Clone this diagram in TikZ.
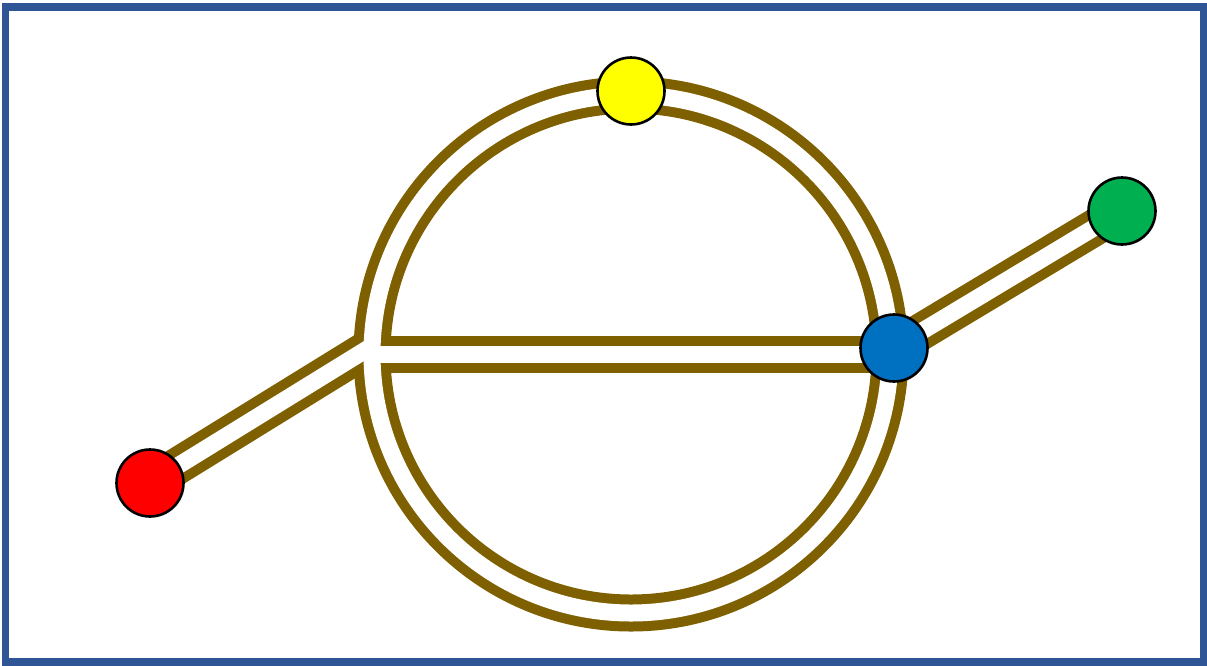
\documentclass[tikz,border=0pt]{standalone}
\usetikzlibrary{backgrounds}
\definecolor{ringbrown}{HTML}{7F6000}
\definecolor{framecol}{HTML}{2F5597}
\definecolor{nred}{HTML}{FF0000}
\definecolor{nyellow}{HTML}{FFFF00}
\definecolor{nblue}{HTML}{0070C0}
\definecolor{ngreen}{HTML}{00B050}
\begin{document}
\begin{tikzpicture}[x=1pt,y=-1pt,
  dot/.style={circle,draw=black,line width=2.6pt,minimum size=67pt,inner sep=0pt},
  railout/.style={draw=ringbrown,line width=37pt},
  railin/.style={draw=white,line width=17pt}]
\useasboundingbox (0,0) rectangle (1207,665);
\node[dot,fill=nred] (red) at (150,483) {};
\node[dot,fill=nyellow] (yellow) at (631,91) {};
\node[dot,fill=nblue] (blue) at (894,348) {};
\node[dot,fill=ngreen] (green) at (1122,211) {};
\coordinate (c) at (631,354);
\coordinate (jd) at (372.1,346);
\coordinate (jh) at (372,354);
\begin{pgfonlayer}{background}
  \draw[framecol,line width=7.5pt] (5.5,7) rectangle (1203.5,662);
  \draw[railout] (c) circle[radius=259];
  \draw[railout] (red.center) -- (jd);
  \draw[railout] (jh) -- (jh -| blue.center);
  \draw[railout] (blue.center) -- (green.center);
  \draw[railin] (c) circle[radius=259];
  \draw[railin] (red.center) -- (jd);
  \draw[railin] (jh) -- (jh -| blue.center);
  \draw[railin] (blue.center) -- (green.center);
\end{pgfonlayer}
\end{tikzpicture}
\end{document}
